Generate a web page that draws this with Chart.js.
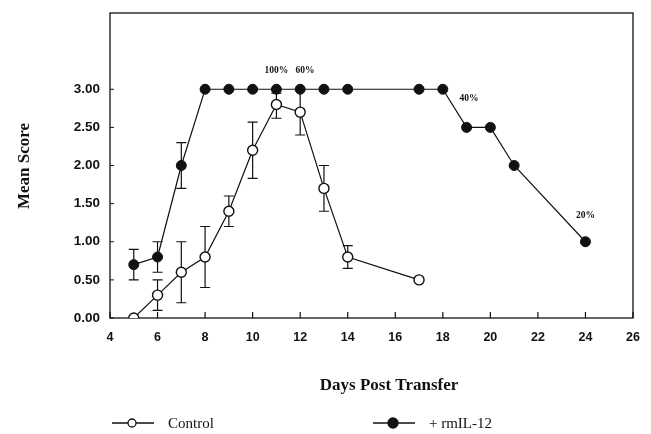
<!DOCTYPE html>
<html>
<head>
<meta charset="utf-8">
<script src="https://cdn.jsdelivr.net/npm/chart.js@4"></script>
<style>
  html, body { margin:0; padding:0; background:#fff; }
  #wrap { width:651px; height:434px; }
</style>
</head>
<body>
<div id="wrap"><canvas id="c" width="651" height="434"></canvas></div>
<script>
// Datos
const xTicks      = [4, 6, 8, 10, 12, 14, 16, 18, 20, 22, 24, 26];
const yTicks      = [0, 0.5, 1, 1.5, 2, 2.5, 3];

const ctrlDays    = [5, 6, 7, 8, 9, 10, 11, 12, 13, 14, 17];
const ctrlMean    = [0, 0.3, 0.6, 0.8, 1.4, 2.2, 2.8, 2.7, 1.7, 0.8, 0.5];
const ctrlLow     = [null, 0.1, 0.2, 0.4, 1.2, 1.83, 2.62, 2.4, 1.4, 0.65, null];
const ctrlHigh    = [null, 0.5, 1.0, 1.2, 1.6, 2.57, 2.95, 3.0, 2.0, 0.95, null];

const ilDays      = [5, 6, 7, 8, 9, 10, 11, 12, 13, 14, 17, 18, 19, 20, 21, 24];
const ilMean      = [0.7, 0.8, 2.0, 3, 3, 3, 3, 3, 3, 3, 3, 3, 2.5, 2.5, 2.0, 1.0];
const ilLow       = [0.5, 0.6, 1.7, null, null, null, null, null, null, null, null, null, null, null, null, null];
const ilHigh      = [0.9, 1.0, 2.3, null, null, null, null, null, null, null, null, null, null, null, null, null];

// Anotaciones de porcentaje (día, valor)
const notes = [
  { text: "100%", x: 11, y: 3.25 },
  { text: "60%",  x: 12.2, y: 3.25 },
  { text: "40%",  x: 19.1, y: 2.88 },
  { text: "20%",  x: 24, y: 1.35 },
];

const pts = (xs, ys) => xs.map((x, i) => ({ x, y: ys[i] }));

// Plugin: marco, ticks internos, barras de error, textos y leyenda
const extras = {
  id: "extras",
  beforeDatasetsDraw(chart) {
    const { ctx, chartArea: a, scales: { x, y } } = chart;
    ctx.save();
    ctx.strokeStyle = "#111";
    ctx.lineWidth = 1.3;
    ctx.strokeRect(a.left, a.top, a.right - a.left, a.bottom - a.top);
    // ticks hacia dentro
    ctx.lineWidth = 1.2;
    xTicks.forEach(v => {
      const px = x.getPixelForValue(v);
      ctx.beginPath(); ctx.moveTo(px, a.bottom); ctx.lineTo(px, a.bottom - 6); ctx.stroke();
    });
    ctx.lineWidth = 1;
    yTicks.forEach(v => {
      const py = y.getPixelForValue(v);
      ctx.beginPath(); ctx.moveTo(a.left, py); ctx.lineTo(a.left + 4, py); ctx.stroke();
    });
    // barras de error
    ctx.lineWidth = 1.2;
    const bars = (days, lo, hi) => days.forEach((d, i) => {
      if (lo[i] == null) return;
      const px = x.getPixelForValue(d);
      const y1 = y.getPixelForValue(lo[i]), y2 = y.getPixelForValue(hi[i]);
      ctx.beginPath();
      ctx.moveTo(px, y1); ctx.lineTo(px, y2);
      ctx.moveTo(px - 5, y1); ctx.lineTo(px + 5, y1);
      ctx.moveTo(px - 5, y2); ctx.lineTo(px + 5, y2);
      ctx.stroke();
    });
    bars(ctrlDays, ctrlLow, ctrlHigh);
    bars(ilDays, ilLow, ilHigh);
    ctx.restore();
  },
  afterDraw(chart) {
    const { ctx, scales: { x, y } } = chart;
    ctx.save();
    ctx.fillStyle = "#111";
    // anotaciones
    ctx.font = "bold 9.5px 'Liberation Serif'";
    ctx.textAlign = "center"; ctx.textBaseline = "middle";
    notes.forEach(n => ctx.fillText(n.text, x.getPixelForValue(n.x), y.getPixelForValue(n.y)));
    // títulos de ejes
    ctx.font = "bold 17px 'Liberation Serif'";
    ctx.fillText("Days Post Transfer", 389, 386);
    ctx.save();
    ctx.translate(25, 166);
    ctx.rotate(-Math.PI / 2);
    ctx.fillText("Mean Score", 0, 0);
    ctx.restore();
    // leyenda
    const item = (x0, filled, r, label) => {
      ctx.strokeStyle = "#111"; ctx.lineWidth = 1.3;
      ctx.beginPath(); ctx.moveTo(x0, 423); ctx.lineTo(x0 + 42, 423); ctx.stroke();
      ctx.beginPath(); ctx.arc(x0 + 20, 423, r, 0, Math.PI * 2);
      ctx.fillStyle = filled ? "#111" : "#fff"; ctx.fill(); ctx.stroke();
      ctx.fillStyle = "#111";
      ctx.font = "15px 'Liberation Serif'";
      ctx.textAlign = "left";
      ctx.fillText(label, x0 + 56, 424);
    };
    item(112, false, 4, "Control");
    item(373, true, 5, "+ rmIL-12");
    ctx.restore();
  }
};

const tickFont = { family: "'Liberation Sans'", size: 13.5, weight: "bold" };

new Chart(document.getElementById("c"), {
  type: "scatter",
  data: {
    datasets: [
      {
        label: "+ rmIL-12",
        data: pts(ilDays, ilMean),
        showLine: true,
        borderColor: "#111", borderWidth: 1.2,
        pointRadius: 5, pointBackgroundColor: "#111", pointBorderColor: "#111", pointBorderWidth: 1,
      },
      {
        label: "Control",
        data: pts(ctrlDays, ctrlMean),
        showLine: true,
        borderColor: "#111", borderWidth: 1.2,
        pointRadius: 5, pointBackgroundColor: "#fff", pointBorderColor: "#111", pointBorderWidth: 1.4,
      },
    ]
  },
  options: {
    responsive: false,
    animation: false,
    layout: { padding: { left: 0, top: 13, right: 18, bottom: 0 } },
    plugins: { legend: { display: false }, tooltip: { enabled: false } },
    scales: {
      x: {
        type: "linear", min: 4, max: 26,
        afterFit: s => { s.height = 116; s.paddingLeft = 0; s.paddingRight = 0; },
        afterBuildTicks: s => { s.ticks = xTicks.map(v => ({ value: v })); },
        grid: { display: false, drawTicks: false },
        border: { display: false },
        ticks: { color: "#111", padding: 12, maxRotation: 0, font: { family: "'Liberation Sans'", size: 12.5, weight: "bold" } }
      },
      y: {
        min: 0, max: 4,
        afterFit: s => { s.width = 110; s.paddingTop = 0; s.paddingBottom = 0; },
        afterBuildTicks: s => { s.ticks = yTicks.map(v => ({ value: v })); },
        grid: { display: false, drawTicks: false },
        border: { display: false },
        ticks: { color: "#111", padding: 10, callback: v => Number(v).toFixed(2), font: tickFont }
      }
    }
  },
  plugins: [extras]
});
</script>
</body>
</html>
